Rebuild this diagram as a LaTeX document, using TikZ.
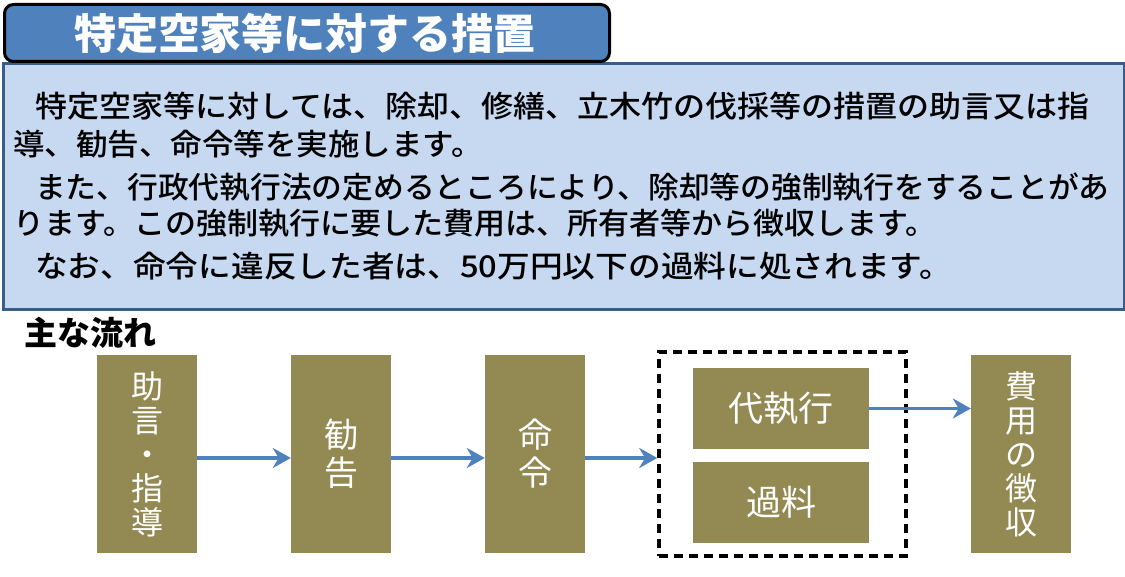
\documentclass[tikz,border=0pt]{standalone}
\usetikzlibrary{arrows.meta}
\usepackage{fontspec}
\newfontfamily\jp{Noto Sans CJK JP}
\newfontfamily\jpm{Noto Sans CJK JP Medium}
\definecolor{ttl}{HTML}{4F81BD}
\definecolor{pnl}{HTML}{C6D9F1}
\definecolor{pbd}{HTML}{385D8A}
\definecolor{olv}{HTML}{938953}
\begin{document}
\begin{tikzpicture}[x=1pt,y=-1pt,
  txt/.style={anchor=west,inner sep=0pt,font=\jpm\fontsize{30}{30}\selectfont},
  obox/.style={fill=olv,draw=none,text=white,font=\jp\fontsize{32}{34}\selectfont,align=center,inner sep=0pt},
  arr/.style={draw=ttl,line width=3.5pt,-{Stealth[length=18pt,width=20pt]}}]
\useasboundingbox (0,0) rectangle (1125,577);
\node[draw=pbd,line width=3pt,fill=pnl,minimum width=1121pt,minimum height=246pt,anchor=north west,inner sep=0pt] (panel) at (1.5,62) {};
\node[draw=black,line width=3pt,fill=ttl,rounded corners=9pt,minimum width=605pt,minimum height=57pt,anchor=north west,inner sep=0pt] (title) at (3,3) {};
\node[text=white,font=\jp\bfseries\fontsize{42}{42}\selectfont] (tt) at (305,33) {特定空家等に対する措置};
\node[txt] (l1) at (35,106) {\scalebox{1.067}[1]{特定空家等に対しては、除却、修繕、立木竹の伐採等の措置の助言又は指}};
\node[txt] (l2) at (13,144) {\scalebox{1.05}[1]{導、勧告、命令等を実施します。}};
\node[txt] (l3) at (35,187) {\scalebox{1.025}[1]{また、行政代執行法の定めるところにより、除却等の強制執行をすることがあ}};
\node[txt] (l4) at (13,223) {\scalebox{1.033}[1]{ります。この強制執行に要した費用は、所有者等から徴収します。}};
\node[txt] (l5) at (35,266) {\scalebox{1.09}[1]{なお、命令に違反した者は、50万円以下の過料に処されます。}};
\node[font=\jp\bfseries\fontsize{33}{33}\selectfont,anchor=west,inner sep=0pt] (flow) at (24,333) {主な流れ};
\node[obox,minimum width=100pt,minimum height=198pt] (b1) at (147,454) {助\\言\\・\\指\\導};
\node[obox,minimum width=100pt,minimum height=198pt,font=\jp\fontsize{34}{38}\selectfont] (b2) at (341,454) {勧\\告};
\node[obox,minimum width=100pt,minimum height=198pt,font=\jp\fontsize{34}{38}\selectfont] (b3) at (535,454) {命\\令};
\node[draw=black,dash pattern=on 9pt off 6pt,line width=3.5pt,minimum width=247pt,minimum height=204pt,inner sep=0pt] (grp) at (782.5,454) {};
\node[obox,minimum width=176pt,minimum height=81pt,font=\jp\fontsize{35}{35}\selectfont] (b4) at (781,408.5) {代執行};
\node[obox,minimum width=176pt,minimum height=81pt,font=\jp\fontsize{35}{35}\selectfont] (b5) at (781,502.5) {過料};
\node[obox,minimum width=100pt,minimum height=198pt] (b6) at (1021,454) {費\\用\\の\\徴\\収};
\draw[arr] (b1.east|-0,458) -- (b2.west|-0,458);
\draw[arr] (b2.east|-0,458) -- (b3.west|-0,458);
\draw[arr] (b3.east|-0,458) -- (grp.west|-0,458);
\draw[arr] (b4.east) -- (b6.west|-b4.east);
\end{tikzpicture}
\end{document}
